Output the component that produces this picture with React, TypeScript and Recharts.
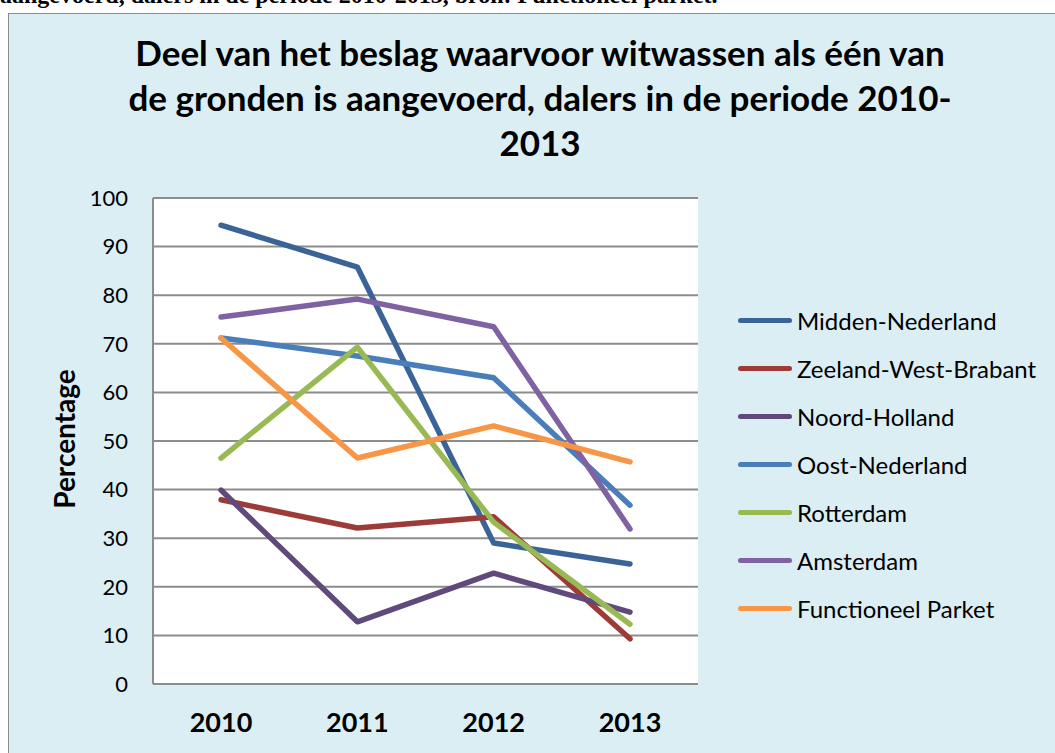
import { LineChart, Line, XAxis, YAxis, CartesianGrid } from 'recharts';

const YEARS = ['2010', '2011', '2012', '2013'];

const MIDDEN_NEDERLAND = [94.4, 85.8, 29.0, 24.7];
const ZEELAND_WEST_BRABANT = [37.9, 32.1, 34.4, 9.3];
const NOORD_HOLLAND = [39.9, 12.8, 22.8, 14.8];
const OOST_NEDERLAND = [71.2, 67.5, 63.0, 36.8];
const ROTTERDAM = [46.5, 69.3, 33.3, 12.3];
const AMSTERDAM = [75.5, 79.2, 73.5, 31.9];
const FUNCTIONEEL_PARKET = [71.2, 46.5, 53.1, 45.7];

const Y_TICKS = [0, 10, 20, 30, 40, 50, 60, 70, 80, 90, 100];

const SERIES = [
  { key: 'Midden-Nederland', values: MIDDEN_NEDERLAND, color: '#3A6497' },
  { key: 'Zeeland-West-Brabant', values: ZEELAND_WEST_BRABANT, color: '#9C3B37' },
  { key: 'Noord-Holland', values: NOORD_HOLLAND, color: '#604A7B' },
  { key: 'Oost-Nederland', values: OOST_NEDERLAND, color: '#4A7EBB' },
  { key: 'Rotterdam', values: ROTTERDAM, color: '#98B954' },
  { key: 'Amsterdam', values: AMSTERDAM, color: '#7F62A1' },
  { key: 'Functioneel Parket', values: FUNCTIONEEL_PARKET, color: '#F79646' },
];

const chartData = YEARS.map((year, i) => {
  const row: Record<string, string | number> = { year };
  SERIES.forEach((s) => {
    row[s.key] = s.values[i];
  });
  return row;
});

const FONT = 'Lato, "Open Sans", sans-serif';

const YLabel = ({ viewBox }: any) => {
  const cx = viewBox.x + 31;
  const cy = viewBox.y + viewBox.height / 2 - 2;
  return (
    <text
      x={cx}
      y={cy}
      transform={`rotate(-90, ${cx}, ${cy})`}
      textAnchor="middle"
      dominantBaseline="central"
      fontFamily={FONT}
      fontWeight="bold"
      fontSize={28}
      fill="#000"
    >
      Percentage
    </text>
  );
};

export default function App() {
  return (
    <div style={{ position: 'absolute', left: 0, top: 0, width: 1055, height: 753, overflow: 'hidden', background: '#fff' }}>
      {/* afgesneden regel tekst boven de figuur */}
      <div
        style={{
          position: 'absolute',
          left: 0,
          top: -17,
          fontFamily: '"Liberation Serif", serif',
          fontWeight: 'bold',
          fontSize: 24,
          lineHeight: '24px',
          whiteSpace: 'nowrap',
          color: '#000',
        }}
      >
        aangevoerd, dalers in de periode 2010-2013, bron: Functioneel parket.
      </div>

      <div
        style={{
          position: 'absolute',
          left: 8,
          top: 13,
          width: 1080,
          height: 780,
          border: '1px solid #8c8c8c',
          background: '#DBEEF4',
        }}
      >
        <div
          style={{
            position: 'absolute',
            left: 0,
            top: 16,
            width: 1062,
            textAlign: 'center',
            fontFamily: FONT,
            fontWeight: 'bold',
            fontSize: 35,
            lineHeight: '45px',
            whiteSpace: 'nowrap',
            color: '#000',
          }}
        >
          Deel van het beslag waarvoor witwassen als één van
          <br />
          de gronden is aangevoerd, dalers in de periode 2010-
          <br />
          2013
        </div>

        <LineChart
          width={1046}
          height={740}
          data={chartData}
          margin={{ top: 184, right: 357, bottom: 20, left: 24 }}
          style={{ position: 'absolute', left: 0, top: 0 }}
        >
          <CartesianGrid vertical={false} stroke="#8c8c8c" strokeWidth={2} fill="#ffffff" />
          <XAxis
            dataKey="year"
            height={50}
            padding={{ left: 68, right: 68 }}
            tickSize={0}
            tickMargin={29}
            axisLine={{ stroke: '#8c8c8c', strokeWidth: 2 }}
            tickLine={false}
            tick={{ fill: '#000', fontSize: 27, fontWeight: 'bold', fontFamily: FONT }}
          />
          <YAxis
            width={120}
            domain={[0, 100]}
            ticks={Y_TICKS}
            interval={0}
            tickSize={0}
            tickMargin={25}
            axisLine={{ stroke: '#8c8c8c', strokeWidth: 2 }}
            tickLine={false}
            tick={{ fill: '#000', fontSize: 22, fontFamily: FONT }}
            label={<YLabel />}
          />
          {SERIES.map((s) => (
            <Line
              key={s.key}
              type="linear"
              dataKey={s.key}
              stroke={s.color}
              strokeWidth={5.5}
              strokeLinecap="round"
              strokeLinejoin="round"
              dot={false}
              activeDot={false}
              isAnimationActive={false}
            />
          ))}
        </LineChart>

        {/* legenda rechts, een rij per reeks */}
        <div style={{ position: 'absolute', left: 729, top: 282, fontFamily: FONT }}>
          {SERIES.map((s) => (
            <div key={s.key} style={{ display: 'flex', alignItems: 'center', height: 48 }}>
              <div style={{ width: 54, height: 5, borderRadius: 3, background: s.color, marginRight: 5 }} />
              <span style={{ fontSize: 24, color: '#000', whiteSpace: 'nowrap' }}>{s.key}</span>
            </div>
          ))}
        </div>
      </div>
    </div>
  );
}
